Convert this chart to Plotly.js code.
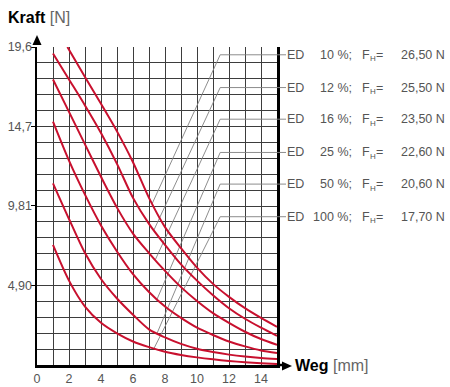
<!DOCTYPE html>
<html><head><meta charset="utf-8">
<script src="https://cdn.plot.ly/plotly-3.0.1.min.js"></script>
<style>html,body{margin:0;padding:0;background:#fff}#chart{width:450px;height:387px}</style>
</head><body><div id="chart"></div>
<script>
// Weg [mm] sample positions
const weg = [1, 2, 3, 4, 5, 6, 7, 8, 9, 10, 11, 12, 13, 14, 15];
const wegED10 = [1.9, 3, 4, 5, 6, 7, 8, 9, 10, 11, 12, 13, 14, 15];
// Kraft [N] per duty cycle
const kraftED10  = [19.6, 17.75, 16.1, 14.4, 12.5, 10.3, 8.5, 7.2, 6.0, 5.0, 4.2, 3.5, 2.9, 2.35];
const kraftED12  = [19.2, 17.6, 16.0, 14.3, 12.4, 10.3, 8.7, 7.4, 6.2, 5.2, 4.3, 3.5, 2.85, 2.3, 1.8];
const kraftED16  = [17.6, 15.6, 13.6, 11.6, 9.7, 8.1, 6.9, 5.8, 4.8, 3.95, 3.2, 2.6, 2.05, 1.6, 1.24];
const kraftED25  = [15.0, 12.6, 10.5, 8.6, 7.0, 5.6, 4.5, 3.6, 2.9, 2.3, 1.85, 1.45, 1.15, 0.9, 0.74];
const kraftED50  = [11.2, 9.0, 6.9, 5.3, 4.1, 3.1, 2.2, 1.7, 1.3, 1.0, 0.8, 0.64, 0.52, 0.43, 0.37];
const kraftED100 = [7.4, 5.2, 3.6, 2.6, 1.95, 1.45, 1.1, 0.82, 0.62, 0.47, 0.35, 0.25, 0.17, 0.11, 0.06];

// Legend rows
const edPercent = ['10', '12', '16', '25', '50', '100'];
const holdForce = ['26,50', '25,50', '23,50', '22,60', '20,60', '17,70'];
const labelY    = [19.12, 17.1, 15.15, 13.1, 11.15, 9.14];
const anchorX   = [7.2, 7.3, 7.4, 7.5, 7.5, 7.3];
const anchorY   = [9.95, 8.3, 6.5, 4.05, 1.95, 1.0];

// Tick labels
const xTickVals = [0, 2, 4, 6, 8, 10, 12, 14];
const yTickVals = [4.90, 9.81, 14.7, 19.6];
const yTickText = ['4,90', '9,81', '14,7', '19,6'];

const elbowX = 11.45;
const RED = '#c8102e';
const GRID = '#3d3d3d';
const GRAYTXT = '#555';
const FONT = 'Liberation Sans, Arial, sans-serif';

const series = [
  [wegED10, kraftED10], [weg, kraftED12], [weg, kraftED16],
  [weg, kraftED25], [weg, kraftED50], [weg, kraftED100]
];

const traces = [];
for (let i = 0; i < edPercent.length; i++) {
  traces.push({
    type: 'scatter', mode: 'lines',
    x: [anchorX[i], elbowX, 15], y: [anchorY[i], labelY[i], labelY[i]],
    line: {color: '#808080', width: 0.9}, hoverinfo: 'skip', showlegend: false
  });
}
series.forEach(([xs, ys]) => {
  traces.push({
    type: 'scatter', mode: 'lines', x: xs, y: ys,
    line: {color: RED, width: 2, shape: 'spline', smoothing: 0.8},
    hoverinfo: 'skip', showlegend: false
  });
});

const px = v => (v - 37) / 240;   // pixel -> paper x
const py = v => (365 - v) / 318;  // pixel -> paper y

const annotations = [];
const shapes = [];
for (let i = 0; i < edPercent.length; i++) {
  shapes.push({type: 'line', xref: 'paper', yref: 'y', x0: 1, x1: px(286), y0: labelY[i], y1: labelY[i],
               line: {color: '#808080', width: 0.9}});
  const base = {xref: 'paper', yref: 'y', y: labelY[i], yanchor: 'middle', showarrow: false,
                font: {family: FONT, size: 12.5, color: GRAYTXT}};
  annotations.push(Object.assign({}, base, {x: px(285), xanchor: 'left', text: 'ED'}));
  annotations.push(Object.assign({}, base, {x: px(354), xanchor: 'right', text: edPercent[i] + ' %;'}));
  annotations.push(Object.assign({}, base, {x: px(360), xanchor: 'left', text: 'F'}));
  annotations.push(Object.assign({}, base, {x: px(367.5), xanchor: 'left', text: 'H', yshift: -4,
                   font: {family: FONT, size: 8, color: GRAYTXT}}));
  annotations.push(Object.assign({}, base, {x: px(374), xanchor: 'left', text: '='}));
  annotations.push(Object.assign({}, base, {x: px(447), xanchor: 'right', text: holdForce[i] + ' N'}));
}
// axis arrows as filled paths
shapes.push({type: 'path', xref: 'paper', yref: 'paper', line: {width: 0}, fillcolor: '#000',
  path: `M ${px(37)},${py(35)} L ${px(41.5)},${py(45)} L ${px(32.5)},${py(45)} Z`});
shapes.push({type: 'line', xref: 'paper', yref: 'paper', x0: 1, x1: px(285), y0: 0, y1: 0,
  line: {color: '#000', width: 2.5}});
shapes.push({type: 'path', xref: 'paper', yref: 'paper', line: {width: 0}, fillcolor: '#000',
  path: `M ${px(292)},${py(366)} L ${px(282)},${py(361.5)} L ${px(282)},${py(370.5)} Z`});
// axis titles
annotations.push({xref: 'paper', yref: 'paper', x: px(6), y: py(18), xanchor: 'left', yanchor: 'middle',
  showarrow: false, font: {family: FONT, size: 16, color: '#000'},
  text: '<b>Kraft</b> <span style="color:#666">[N]</span>'});
annotations.push({xref: 'paper', yref: 'paper', x: px(293), y: py(365), xanchor: 'left', yanchor: 'middle',
  showarrow: false, font: {family: FONT, size: 16, color: '#000'},
  text: '<b>Weg</b> <span style="color:#666">[mm]</span>'});

const layout = {
  width: 450, height: 387,
  margin: {l: 37, r: 173, t: 47, b: 22, pad: 0},
  paper_bgcolor: '#fff', plot_bgcolor: '#fff',
  font: {family: FONT, size: 12.5, color: GRAYTXT},
  showlegend: false,
  xaxis: {
    range: [0, 15], tickvals: xTickVals, ticktext: xTickVals.map(String),
    showgrid: true, gridcolor: GRID, gridwidth: 1,
    minor: {dtick: 1, tick0: 0, showgrid: true, gridcolor: GRID, gridwidth: 1},
    showline: true, linecolor: '#000', linewidth: 2.5,
    ticks: '', zeroline: false, fixedrange: true,
    tickfont: {family: FONT, size: 12.5, color: GRAYTXT}
  },
  yaxis: {
    range: [0, 19.6], tickvals: yTickVals, ticktext: yTickText,
    showgrid: false,
    minor: {dtick: 0.98, tick0: 0, showgrid: true, gridcolor: GRID, gridwidth: 1},
    showline: true, linecolor: '#000', linewidth: 2.5, mirror: true,
    ticks: 'outside', ticklen: 4, tickcolor: '#000', tickwidth: 1,
    ticklabelstandoff: -4,
    zeroline: false, fixedrange: true,
    tickfont: {family: FONT, size: 12.5, color: GRAYTXT}
  },
  shapes: shapes,
  annotations: annotations
};

Plotly.newPlot('chart', traces, layout, {displayModeBar: false, staticPlot: true});
</script>
</body></html>
